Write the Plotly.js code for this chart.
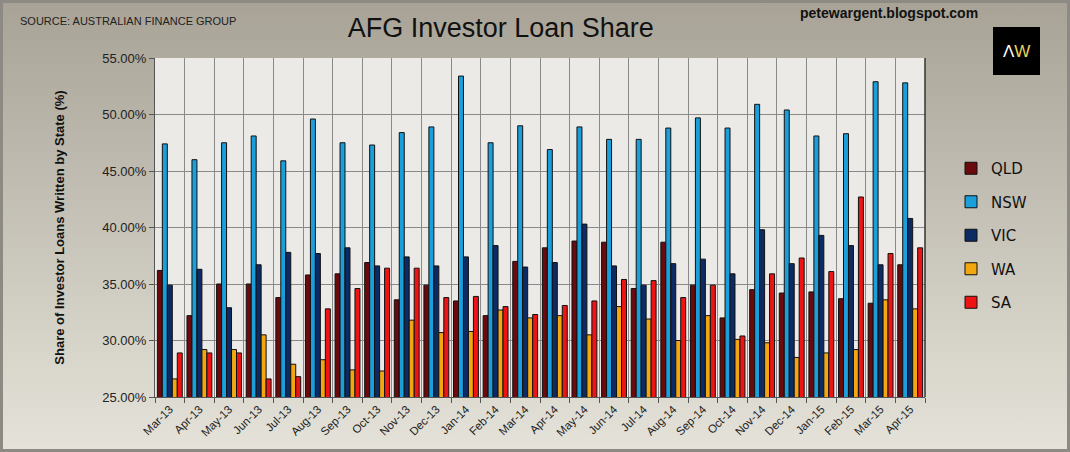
<!DOCTYPE html>
<html>
<head>
<meta charset="utf-8">
<script src="https://cdn.plot.ly/plotly-3.0.1.min.js"></script>
<style>
  html, body { margin: 0; padding: 0; }
  body { width: 1070px; height: 452px; overflow: hidden; }
  #frame {
    position: absolute; left: 0; top: 0; width: 1064px; height: 446px;
    border: 3px solid #8c8a82;
    background: linear-gradient(180deg, #a8a396 0%, #bdb9ae 35%, #d6d3c8 75%, #e4e2d9 100%);
  }
  #chart { position: absolute; left: -3px; top: -3px; width: 1070px; height: 452px; }
</style>
</head>
<body>
<div id="frame"><div id="chart"></div></div>
<script>
const months = ["Mar-13","Apr-13","May-13","Jun-13","Jul-13","Aug-13","Sep-13","Oct-13","Nov-13","Dec-13",
  "Jan-14","Feb-14","Mar-14","Apr-14","May-14","Jun-14","Jul-14","Aug-14","Sep-14","Oct-14","Nov-14","Dec-14",
  "Jan-15","Feb-15","Mar-15","Apr-15"];
const qld = [36.2, 32.2, 35.0, 35.0, 33.8, 35.8, 35.9, 36.9, 33.6, 34.9, 33.5, 32.2, 37.0, 38.2, 38.8, 38.7, 34.6, 38.7, 34.9, 32.0, 34.5, 34.2, 34.3, 33.7, 33.3, 36.7];
const nsw = [47.4, 46.0, 47.5, 48.1, 45.9, 49.6, 47.5, 47.3, 48.4, 48.9, 53.4, 47.5, 49.0, 46.9, 48.9, 47.8, 47.8, 48.8, 49.7, 48.8, 50.9, 50.4, 48.1, 48.3, 52.9, 52.8];
const vic = [34.9, 36.3, 32.9, 36.7, 37.8, 37.7, 38.2, 36.6, 37.4, 36.6, 37.4, 38.4, 36.5, 36.9, 40.3, 36.6, 34.9, 36.8, 37.2, 35.9, 39.8, 36.8, 39.3, 38.4, 36.7, 40.8];
const wa  = [26.6, 29.2, 29.2, 30.5, 27.9, 28.3, 27.4, 27.3, 31.8, 30.7, 30.8, 32.7, 32.0, 32.2, 30.5, 33.0, 31.9, 30.0, 32.2, 30.1, 29.8, 28.5, 28.9, 29.2, 33.6, 32.8];
const sa  = [28.9, 28.9, 28.9, 26.6, 26.8, 32.8, 34.6, 36.4, 36.4, 33.8, 33.9, 33.0, 32.3, 33.1, 33.5, 35.4, 35.3, 33.8, 34.9, 30.4, 35.9, 37.3, 36.1, 42.7, 37.7, 38.2];
const yTicks = [25, 30, 35, 40, 45, 50, 55];

const seriesNames = ["QLD", "NSW", "VIC", "WA", "SA"];
const seriesData = [qld, nsw, vic, wa, sa];
const colors = ["#6a0a0c", "#1a9fdb", "#0c2a63", "#f2a60f", "#ee1414"];

const traces = seriesNames.map((n, i) => ({
  type: "bar", name: n, x: months, y: seriesData[i], base: 0,
  legendgroup: n,
  marker: { color: colors[i], line: { color: "#111", width: 1 } },
  hoverinfo: "x+y+name"
}));

const L = 155, R = 925, T = 58, B = 397;
const px = x => (x - L) / (R - L);
const py = y => (B - y) / (B - T);

const layout = {
  width: 1070, height: 452,
  paper_bgcolor: "rgba(0,0,0,0)",
  plot_bgcolor: "#ebeae7",
  margin: { l: L, r: 1070 - R, t: T, b: 452 - B, pad: 0 },
  barmode: "group", bargap: 0.16, bargroupgap: 0,
  font: { family: "Liberation Sans, Arial, sans-serif", color: "#222" },
  title: {
    text: "AFG Investor Loan Share",
    font: { family: "Liberation Sans, Arial, sans-serif", size: 27, color: "#111" },
    x: 0.468, xanchor: "center", y: 0.94, yanchor: "middle"
  },
  xaxis: {
    type: "category", tickson: "boundaries", showgrid: true, gridcolor: "#8a8a8a", gridwidth: 1,
    ticks: "outside", ticklen: 5, tickcolor: "#555",
    tickangle: -45, tickfont: { size: 11.5, color: "#222" },
    showline: true, linecolor: "#555", linewidth: 1, mirror: false
  },
  yaxis: {
    range: [25, 55], tickvals: yTicks, ticktext: yTicks.map(v => v.toFixed(2) + "%"),
    showgrid: true, gridcolor: "#8a8a8a", gridwidth: 1,
    ticks: "outside", ticklen: 5, tickcolor: "#555",
    tickfont: { size: 13, color: "#222" },
    showline: true, linecolor: "#555", linewidth: 1, zeroline: false,
    title: { text: "Share of Investor Loans Written by State (%)", standoff: 34,
      font: { size: 13, color: "#111", family: "Liberation Sans, Arial, sans-serif", weight: "bold" } }
  },
  legend: {
    x: px(951), y: py(152), xanchor: "left", yanchor: "top",
    bgcolor: "rgba(0,0,0,0)", tracegroupgap: 11,
    font: { family: "DejaVu Sans, Open Sans, sans-serif", size: 15, color: "#111" }
  },
  shapes: [
    { type: "line", xref: "paper", yref: "paper", x0: 1.0, x1: 1.0, y0: 0, y1: 1,
      line: { color: "#333", width: 1.5 } },
    { type: "rect", xref: "paper", yref: "paper",
      x0: px(993), x1: px(1040), y0: py(75), y1: py(27),
      fillcolor: "#000", line: { width: 0 } }
  ],
  annotations: [
    { text: "SOURCE: AUSTRALIAN FINANCE GROUP", xref: "paper", yref: "paper",
      x: px(18), y: py(21), xanchor: "left", yanchor: "middle", showarrow: false,
      font: { size: 11, color: "#222", family: "Liberation Sans, Arial, sans-serif" } },
    { text: "<b>petewargent.blogspot.com</b>", xref: "paper", yref: "paper",
      x: px(980), y: py(13), xanchor: "right", yanchor: "middle", showarrow: false,
      font: { size: 14, color: "#111", family: "Liberation Sans, Arial, sans-serif" } },
    { text: "<span style='color:#ffffff'>Λ</span><span style='color:#e6d45a'>W</span>", xref: "paper", yref: "paper",
      x: px(1016.5), y: py(51), xanchor: "center", yanchor: "middle", showarrow: false,
      font: { size: 17, family: "Liberation Sans, Arial, sans-serif" } }
  ]
};

Plotly.newPlot("chart", traces, layout, { displayModeBar: false, staticPlot: true });
</script>
</body>
</html>
